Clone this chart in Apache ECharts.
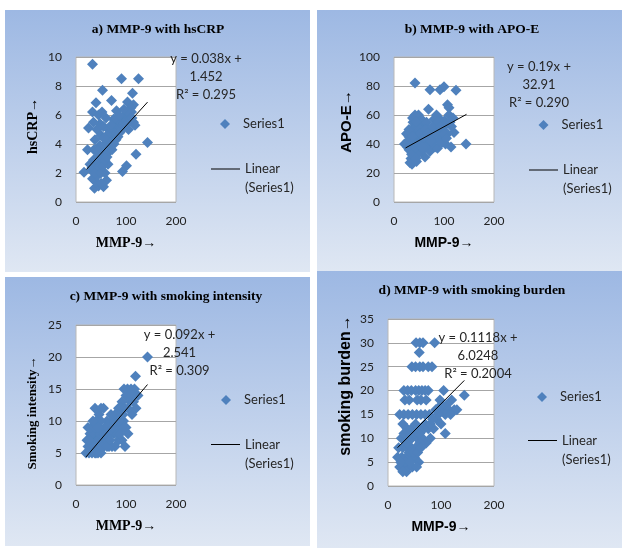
<!DOCTYPE html>
<html><head><meta charset="utf-8">
<script src="https://cdn.jsdelivr.net/npm/echarts@6/dist/echarts.min.js"></script>
<style>html,body{margin:0;padding:0;background:#fff}#c{width:622px;height:548px}</style>
</head><body><div id="c"></div>
<script>
// ---------- data ----------
const titles = ['a) MMP-9 with hsCRP', 'b) MMP-9 with APO-E', 'c) MMP-9 with smoking intensity', 'd) MMP-9 with smoking burden'];
const xName = 'MMP-9\u2192';
const yNames = ['hsCRP\u2192', 'APO-E\u2192', 'Smoking intensity\u2192', 'smoking burden\u2192'];
const xMin = 0, xMax = 200, xInterval = 100;
const yMax = [10, 100, 25, 35];
const yInterval = [2, 20, 5, 5];
const slopes = [0.038, 0.19, 0.092, 0.1118];
const intercepts = [1.452, 32.91, 2.541, 6.0248];
const eqLine1 = ['y = 0.038x +', 'y = 0.19x +', 'y = 0.092x +', 'y = 0.1118x +'];
const eqLine2 = ['1.452', '32.91', '2.541', '6.0248'];
const r2 = ['0.295', '0.290', '0.309', '0.2004'];
const trendX = [[21, 143], [23, 145], [20, 143], [18, 144]];
const seriesName = 'Series1';
const trendName = 'Linear (Series1)';

const hsCRP = [
 [33,9.5],[91,8.5],[125,8.5],[53,7.7],[113,7.5],[71,7.0],[40,6.85],[103,6.9],[33,6.2],[81,6.3],
 [143,4.1],[120,3.3],[101,2.5],[93,2.1],[23,3.6],[25,5.1],[16,2.05],
 [37,0.95],[45,1.1],[55,1.05],[61,1.5],[40,1.4],[33,1.6],[50,1.3],[42,1.8],[58,2.0],[30,2.2],
 [28,2.6],[35,2.9],[40,2.5],[48,2.7],[45,3.2],[52,3.0],[55,3.5],[60,3.3],[62,3.8],[58,4.0],
 [65,4.2],[68,4.5],[70,3.9],[72,4.8],[75,4.4],[78,5.0],[80,4.7],[83,5.3],[85,4.9],[88,5.5],
 [90,5.1],[93,5.8],[95,5.4],[98,6.0],[100,5.6],[104,5.9],[108,6.2],[111,6.2],[115,6.7],[115,5.5],
 [118,5.3],[105,5.0],[110,6.5],[48,3.9],[68,4.3],[48,5.4],[55,5.2],[75,5.7],[101,5.6],[38,4.3],
 [42,5.0],[45,6.0],[35,5.5],[50,4.6],[60,5.8],[65,5.0],[52,6.2],[44,2.2],[36,3.6],[64,2.6],
 [32,2.4],[38,2.0],[46,2.4],[50,2.0],[54,2.5],[58,2.9],[62,3.1],[66,3.5],[72,3.6],[76,4.0],
 [80,4.3],[84,4.5],[88,4.8],[92,5.0],[96,5.2],[100,5.3],[104,6.2],[108,5.7],[112,5.8],[86,6.0],
 [96,6.4],[70,5.3],[62,4.6],[56,4.4],[44,3.5],[40,3.0]
];
const apoE = [
 [42,82],[72,77.5],[92,77.5],[100,79.5],[124,77],[69,64],[107,67],[110,65],[144,40],[120,48],
 [62,31],[32,27],[36,26],[27,38],[21,40],[34,30],[40,33],[45,28],[30,45],[25,47],[35,50],[38,55],
 [37,58],[49,60],[42,60],[45,52],[50,45],[55,42],[48,38],[55,35],[58,48],[60,52],[65,45],[68,40],
 [70,50],[72,35],[75,48],[78,43],[80,57],[82,38],[85,52],[87,37],[89,48],[90,42],[92,57],[95,45],
 [98,50],[101,56],[103,40],[105,54],[107,47],[110,60],[114,38],[115,52],[30,36],[28,42],[33,40],
 [40,42],[44,46],[52,55],[58,56],[62,38],[65,55],[47,33],[52,50],[85,60],[118,58],[40,48],[35,44],
 [25,40],[30,50],[33,48],[37,45],[42,38],[44,55],[50,40],[53,47],[57,38],[60,44],[63,50],[67,47],
 [74,42],[77,52],[83,47],[88,55],[93,52],[96,41],[100,47],[105,44],[112,55],[38,36],[35,33],[44,30]
];
const smokingIntensity = [
 [143,20],[119,17],
 [96,15],[103,15],[110,15],[117,15],[124,14],[100,14],[108,13],[115,13],[92,13],[120,12],[112,11],[104,12],
 [38,12],[46,11],[55,12],[50,12],
 [85,12],[78,11],[72,10],[80,10],[88,11],[95,10],[100,9],[92,9],[84,9],[76,8],[68,9],[62,10],[65,8],
 [98,6],[92,7],[104,8],[85,7],[78,6],[72,6],
 [58,9],[52,8],[46,9],[40,8],[34,9],[28,8],[22,7],[20,5],[26,5],[32,5],[38,5],[44,5],[50,5],[56,6],
 [30,6],[36,7],[42,6],[48,7],[54,7],[60,7],[24,9],[40,10],[50,10],[66,6],
 [24,6],[28,7],[32,8],[36,6],[40,5],[44,7],[48,8],[52,6],[56,8],[60,8],[64,9],[70,8],[74,9],[82,8],
 [88,8],[96,9],[26,7],[30,9],[38,9],[34,10],[44,9],[62,6],[68,7],[76,10],[82,11],[90,12],[98,12],
 [106,14],[112,14],[94,11],[86,10],[70,11]
];
const smokingBurden = [
 [53,30],[60,30],[66,30],[88,30],[59,28],
 [45,25],[52,25],[60,25],[66,25],[76,25],[83,25],
 [30,20],[37,20],[44,20],[52,20],[58,20],[64,20],[70,20],[76,20],[105,20],
 [32,18],[40,18],[55,18],[62,18],[72,18],[98,18],[120,18],[144,19],
 [100,16],[110,17],[115,16],[125,16],[130,16],[108,15],[118,15],[95,15],
 [22,15],[30,15],[38,15],[46,15],[54,15],[62,15],[70,15],[78,15],
 [28,13],[36,12],[44,12],[52,13],[60,12],[68,12],[76,12],[86,12],[92,14],[100,13],[108,11],
 [25,10],[35,10],[45,10],[55,10],[65,10],[72,9],[80,10],
 [20,8],[28,8],[36,8],[44,8],[52,8],[60,9],[18,6],[26,6],[34,6],[42,6],[50,6],[58,5],
 [22,4],[30,4],[38,4],[46,4],[54,4],[35,3],[40,7],[32,5],
 [24,5],[28,3],[42,5],[48,7],[56,7],[62,8],[36,9],[30,11],[40,11],[50,11],[60,11],[70,13],
 [80,13],[84,14],[90,16],[100,17]
];
const datasets = [hsCRP, apoE, smokingIntensity, smokingBurden];

// ---------- layout ----------
const panels = [
  {bg:[5,10,305,262], grid:[76,57,100,145], title:[158,23], eq:[206,77], leg1:[220,116], leg2:[211,140.5],
   serif:true, ySize:14, yGap:36, yPad:[0,0,0,7]},
  {bg:[317,10,305,261], grid:[394,57,100,145], title:[472,23], eq:[539,85], leg1:[538.5,117], leg2:[529,141.5],
   serif:false, ySize:15, yGap:40, yPad:[0,0,0,16]},
  {bg:[5,277,305,269], grid:[76,325,100,160], title:[166,290], eq:[179.5,353], leg1:[221,392], leg2:[211,416],
   serif:true, ySize:13, yGap:37, yPad:[0,16,0,0]},
  {bg:[317,271,305,277], grid:[388,319,106,167], title:[472,284], eq:[478,356], leg1:[537,389], leg2:[528,412],
   serif:false, ySize:16, yGap:34, yPad:[0,0,0,34]}
];
const SERIF = '"Liberation Serif", "Times New Roman", serif';
const SANS = '"Liberation Sans", Arial, sans-serif';
const BODY = 'Lato, "Open Sans", sans-serif';
const blue = '#4f81bd';

const option = {
  animation: false,
  backgroundColor: '#ffffff',
  title: [], grid: [], xAxis: [], yAxis: [], legend: [], series: [], graphic: []
};

panels.forEach((p, i) => {
  option.graphic.push({
    type: 'rect', z: -10, silent: true,
    shape: {x: p.bg[0], y: p.bg[1], width: p.bg[2], height: p.bg[3]},
    style: {fill: new echarts.graphic.LinearGradient(0, 0, 0, 1, [
      {offset: 0, color: '#9db8e3'}, {offset: 1, color: '#dfe7f3'}])}
  });
  option.title.push({
    text: titles[i], left: p.title[0], top: p.title[1], textAlign: 'center', padding: 0,
    textStyle: {fontFamily: SERIF, fontWeight: 'bold', fontSize: 13.5, color: '#000'}
  });
  option.grid.push({
    left: p.grid[0], top: p.grid[1], width: p.grid[2], height: p.grid[3],
    show: true, backgroundColor: '#ffffff', borderColor: '#b8b8b8', borderWidth: 1
  });
  const titleFont = p.serif ? SERIF : SANS;
  option.xAxis.push({
    type: 'value', gridIndex: i, min: xMin, max: xMax, interval: xInterval,
    axisLine: {show: false}, axisTick: {show: false}, splitLine: {show: false},
    axisLabel: {margin: 13, fontSize: 12, color: '#222', fontFamily: BODY},
    name: xName, nameLocation: 'middle', nameGap: 34,
    nameTextStyle: {fontFamily: titleFont, fontWeight: 'bold', fontSize: 14, color: '#000'}
  });
  option.yAxis.push({
    type: 'value', gridIndex: i, min: 0, max: yMax[i], interval: yInterval[i],
    axisLine: {show: false}, axisTick: {show: false},
    splitLine: {show: true, lineStyle: {color: '#a6a6a6', width: 1}},
    axisLabel: {margin: 14, fontSize: 12, color: '#222', fontFamily: BODY},
    name: yNames[i], nameLocation: 'middle', nameGap: p.yGap, nameRotate: 90,
    nameTextStyle: {fontFamily: titleFont, fontWeight: 'bold', fontSize: p.ySize, color: '#000', padding: p.yPad}
  });
  option.series.push({
    type: 'scatter', name: seriesName, xAxisIndex: i, yAxisIndex: i,
    data: datasets[i], symbol: 'diamond', symbolSize: 11,
    itemStyle: {color: blue, opacity: 1}
  });
  const tx = trendX[i];
  option.series.push({
    type: 'line', name: trendName, xAxisIndex: i, yAxisIndex: i,
    data: tx.map(x => [x, slopes[i] * x + intercepts[i]]),
    symbol: 'none', showSymbol: false, z: 5,
    lineStyle: {color: '#000', width: 1}, itemStyle: {color: '#000'}
  });
  option.legend.push({
    left: p.leg1[0], top: p.leg1[1], padding: 0, selectedMode: false,
    itemWidth: 10, itemHeight: 10,
    data: [{name: seriesName, icon: 'diamond'}],
    textStyle: {fontFamily: BODY, fontSize: 13, color: '#262626', lineHeight: 16, padding: [0, 0, 0, 8]}
  });
  option.legend.push({
    left: p.leg2[0], top: p.leg2[1], padding: 0, selectedMode: false,
    itemWidth: 29, itemHeight: 1,
    data: [{name: trendName, icon: 'rect', itemStyle: {color: '#000'}}],
    formatter: n => ' \n' + n.replace(' ', '\n'),
    textStyle: {fontFamily: BODY, fontSize: 13, color: '#262626', lineHeight: 19}
  });
  option.graphic.push({
    type: 'text', z: 10, silent: true, x: p.eq[0], y: p.eq[1],
    style: {
      text: eqLine1[i] + '\n' + eqLine2[i] + '\nR\u00b2 = ' + r2[i],
      align: 'center', verticalAlign: 'middle', lineHeight: 18,
      font: '13px ' + BODY, fill: '#262626'
    }
  });
});

const chart = echarts.init(document.getElementById('c'), null, {renderer: 'canvas'});
chart.setOption(option);
</script>
</body></html>
